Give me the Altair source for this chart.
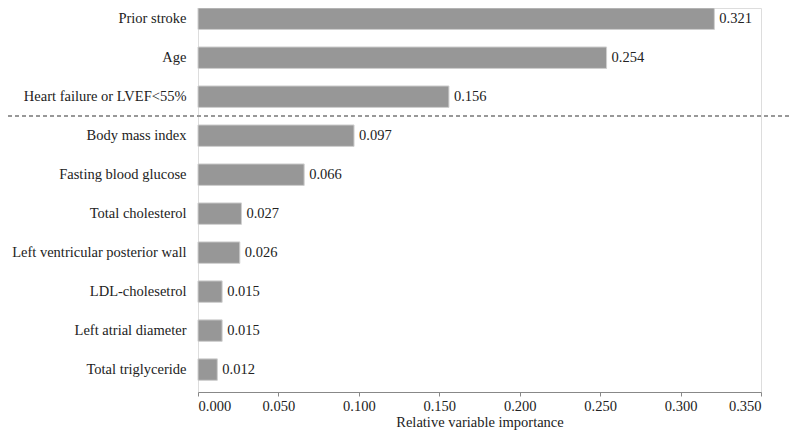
import altair as alt
import pandas as pd

variables = [
    "Prior stroke",
    "Age",
    "Heart failure or LVEF<55%",
    "Body mass index",
    "Fasting blood glucose",
    "Total cholesterol",
    "Left ventricular posterior wall",
    "LDL-cholesetrol",
    "Left atrial diameter",
    "Total triglyceride",
]
importance = [0.321, 0.254, 0.156, 0.097, 0.066, 0.027, 0.026, 0.015, 0.015, 0.012]
x_ticks = [0.0, 0.05, 0.10, 0.15, 0.20, 0.25, 0.30, 0.35]
divider_before = "Body mass index"

df = pd.DataFrame({"variable": variables, "importance": importance})

FONT = "Liberation Serif"
TXT = "#222222"
FS = 14.5

yscale = alt.Scale(paddingInner=0.45, paddingOuter=0.15, align=0)

y = alt.Y(
    "variable:N",
    sort=variables,
    title=None,
    scale=yscale,
    axis=alt.Axis(
        domain=False, ticks=False, labelPadding=12, labelFontSize=FS,
        labelColor=TXT, labelFont=FONT, labelLimit=300,
    ),
)
x = alt.X(
    "importance:Q",
    scale=alt.Scale(domain=[0, 0.35], nice=False),
    axis=alt.Axis(
        values=x_ticks, format=".3f", title="Relative variable importance",
        grid=False, domainColor="#888888", tickColor="#888888", tickSize=4,
        labelFont=FONT, labelFontSize=FS, labelColor=TXT, labelPadding=3,
        titleFont=FONT, titleFontSize=FS, titleFontWeight="normal",
        titleColor=TXT, titlePadding=3,
    ),
)

bars = alt.Chart(df).mark_bar(color="#979797", stroke="#cfcfcf", strokeWidth=1).encode(x=x, y=y)

labels = alt.Chart(df).mark_text(
    align="left", baseline="middle", dx=5, font=FONT, fontSize=FS, color=TXT
).encode(
    x=alt.X("importance:Q"),
    y=alt.Y("variable:N", sort=variables),
    text=alt.Text("importance:Q", format=".3f"),
)

rule = alt.Chart(df).mark_rule(
    strokeDash=[4, 3], color="#999999", strokeWidth=1, yOffset=-9
).encode(
    x=alt.value(-190),
    x2=alt.value(600),
    y=alt.YDatum(datum=divider_before, bandPosition=0),
)

chart = (
    alt.layer(bars, labels, rule)
    .properties(
        width=563,
        height=384,
        autosize=alt.AutoSizeParams(type="none"),
        padding={"left": 190, "top": 0, "right": 31, "bottom": 46},
    )
    .configure_view(stroke=None)
    .configure(background="white")
)

chart.save("out.html", embed_options={"renderer": "svg", "actions": False})
